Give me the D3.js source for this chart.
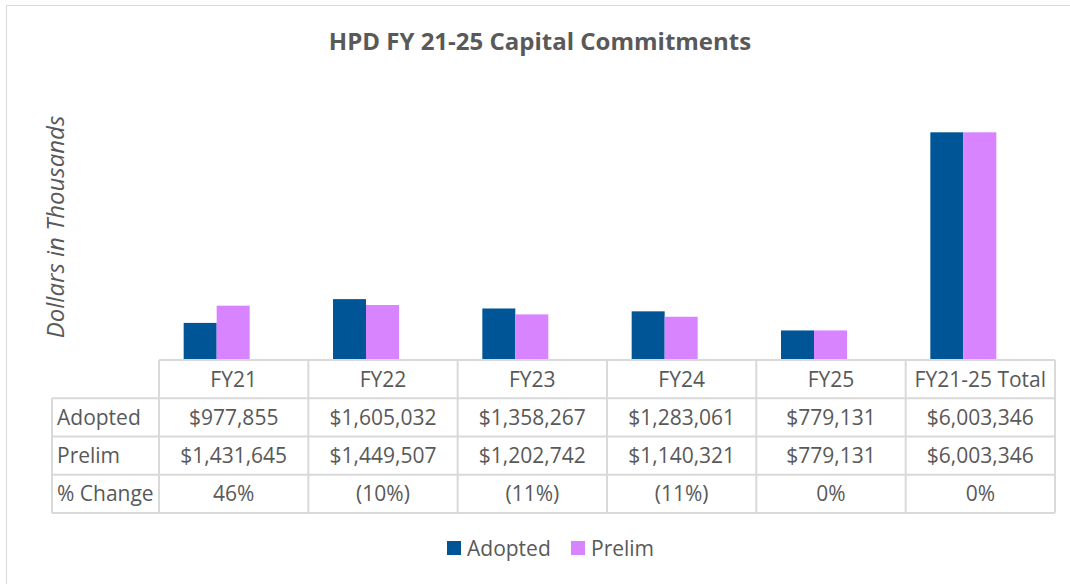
<!DOCTYPE html>
<html>
<head>
<meta charset="utf-8">
<script src="https://cdn.jsdelivr.net/npm/d3@7"></script>
<style>
  body { margin: 0; background: #fff; }
  text { font-family: "Open Sans", sans-serif; fill: #595959; }
</style>
</head>
<body>
<div id="chart"></div>
<script>
var categories = ['FY21', 'FY22', 'FY23', 'FY24', 'FY25', 'FY21-25 Total'];
var adopted = [977855, 1605032, 1358267, 1283061, 779131, 6003346];
var prelim = [1431645, 1449507, 1202742, 1140321, 779131, 6003346];
var pctChange = ['46%', '(10%)', '(11%)', '(11%)', '0%', '0%'];
var seriesNames = ['Adopted', 'Prelim'];
var colors = ['#005596', '#d883ff'];

var width = 1070, height = 584;
var fmt = d3.format('$,');

var svg = d3.select('#chart')
  .append('svg')
  .attr('width', width)
  .attr('height', height);

svg.append('rect')
  .attr('x', 6.5).attr('y', 5.5)
  .attr('width', width).attr('height', height)
  .attr('fill', '#fff')
  .attr('stroke', '#d9d9d9');

svg.append('text')
  .attr('x', 540).attr('y', 50)
  .attr('text-anchor', 'middle')
  .style('font-weight', 'bold')
  .style('font-size', '24px')
  .text('HPD FY 21-25 Capital Commitments');

svg.append('text')
  .attr('transform', 'translate(64,227)rotate(-90)')
  .attr('text-anchor', 'middle')
  .style('font-style', 'italic')
  .style('font-size', '24px')
  .text('Dollars in Thousands');

// scales
var xTable = d3.scaleBand().domain(categories).range([159, 1055]);
var xBars = d3.scaleBand().domain(categories).range([142, 1038]);
var xInner = d3.scaleBand().domain(seriesNames).range([0, 66]);
var y = d3.scaleLinear().domain([0, 7000000]).range([360, 94.5]);

var rows = ['header', 'Adopted', 'Prelim', '% Change'];
var yRow = d3.scaleBand().domain(rows).range([360, 513]);

// bars
var series = [adopted, prelim];
var groups = svg.append('g').selectAll('g')
  .data(categories)
  .join('g')
  .attr('transform', d => `translate(${xBars(d) + xBars.bandwidth() / 2 - 33},0)`);

groups.selectAll('rect')
  .data((d, i) => seriesNames.map((s, j) => ({ s: s, v: series[j][i], c: colors[j] })))
  .join('rect')
  .attr('x', d => xInner(d.s))
  .attr('width', xInner.bandwidth())
  .attr('y', d => y(d.v))
  .attr('height', d => y(0) - y(d.v))
  .attr('fill', d => d.c);

// data table
var table = svg.append('g');
var lineColor = '#d9d9d9';

// horizontal lines
table.selectAll('.hline')
  .data([0, 1, 2, 3, 4])
  .join('line')
  .attr('class', 'hline')
  .attr('x1', i => i === 0 ? 159 : 52)
  .attr('x2', 1055)
  .attr('y1', i => i < 4 ? yRow(rows[i]) : yRow.range()[1])
  .attr('y2', i => i < 4 ? yRow(rows[i]) : yRow.range()[1])
  .attr('stroke', lineColor)
  .attr('stroke-width', 2);

// vertical lines
var vx = categories.map(c => xTable(c)).concat([1055]);
table.selectAll('.vline')
  .data(vx)
  .join('line')
  .attr('class', 'vline')
  .attr('x1', d => d).attr('x2', d => d)
  .attr('y1', 360).attr('y2', 513)
  .attr('stroke', lineColor)
  .attr('stroke-width', 2);

table.append('line')
  .attr('x1', 52).attr('x2', 52)
  .attr('y1', yRow('Adopted')).attr('y2', 513)
  .attr('stroke', lineColor)
  .attr('stroke-width', 2);

// row labels
table.selectAll('.rlabel')
  .data(rows.slice(1))
  .join('text')
  .attr('class', 'rlabel')
  .attr('x', 57)
  .attr('y', d => yRow(d) + yRow.bandwidth() / 2)
  .attr('dy', '0.36em')
  .style('font-size', '21px')
  .text(d => d);

var cellRows = [
  categories,
  adopted.map(fmt),
  prelim.map(fmt),
  pctChange
];

cellRows.forEach(function (vals, r) {
  table.append('g').selectAll('text')
    .data(vals)
    .join('text')
    .attr('x', (d, i) => xTable(categories[i]) + xTable.bandwidth() / 2)
    .attr('y', yRow(rows[r]) + yRow.bandwidth() / 2)
    .attr('dy', '0.36em')
    .attr('text-anchor', 'middle')
    .style('font-size', '21px')
    .text(d => d);
});

// legend
var legend = svg.append('g').attr('transform', 'translate(447,541)');
var legendX = [0, 124];
seriesNames.forEach(function (s, i) {
  var g = legend.append('g').attr('transform', `translate(${legendX[i]},0)`);
  g.append('rect').attr('width', 14).attr('height', 14).attr('fill', colors[i]);
  g.append('text')
    .attr('x', 20).attr('y', 7).attr('dy', '0.36em')
    .style('font-size', '21px')
    .text(s);
});
</script>
</body>
</html>
